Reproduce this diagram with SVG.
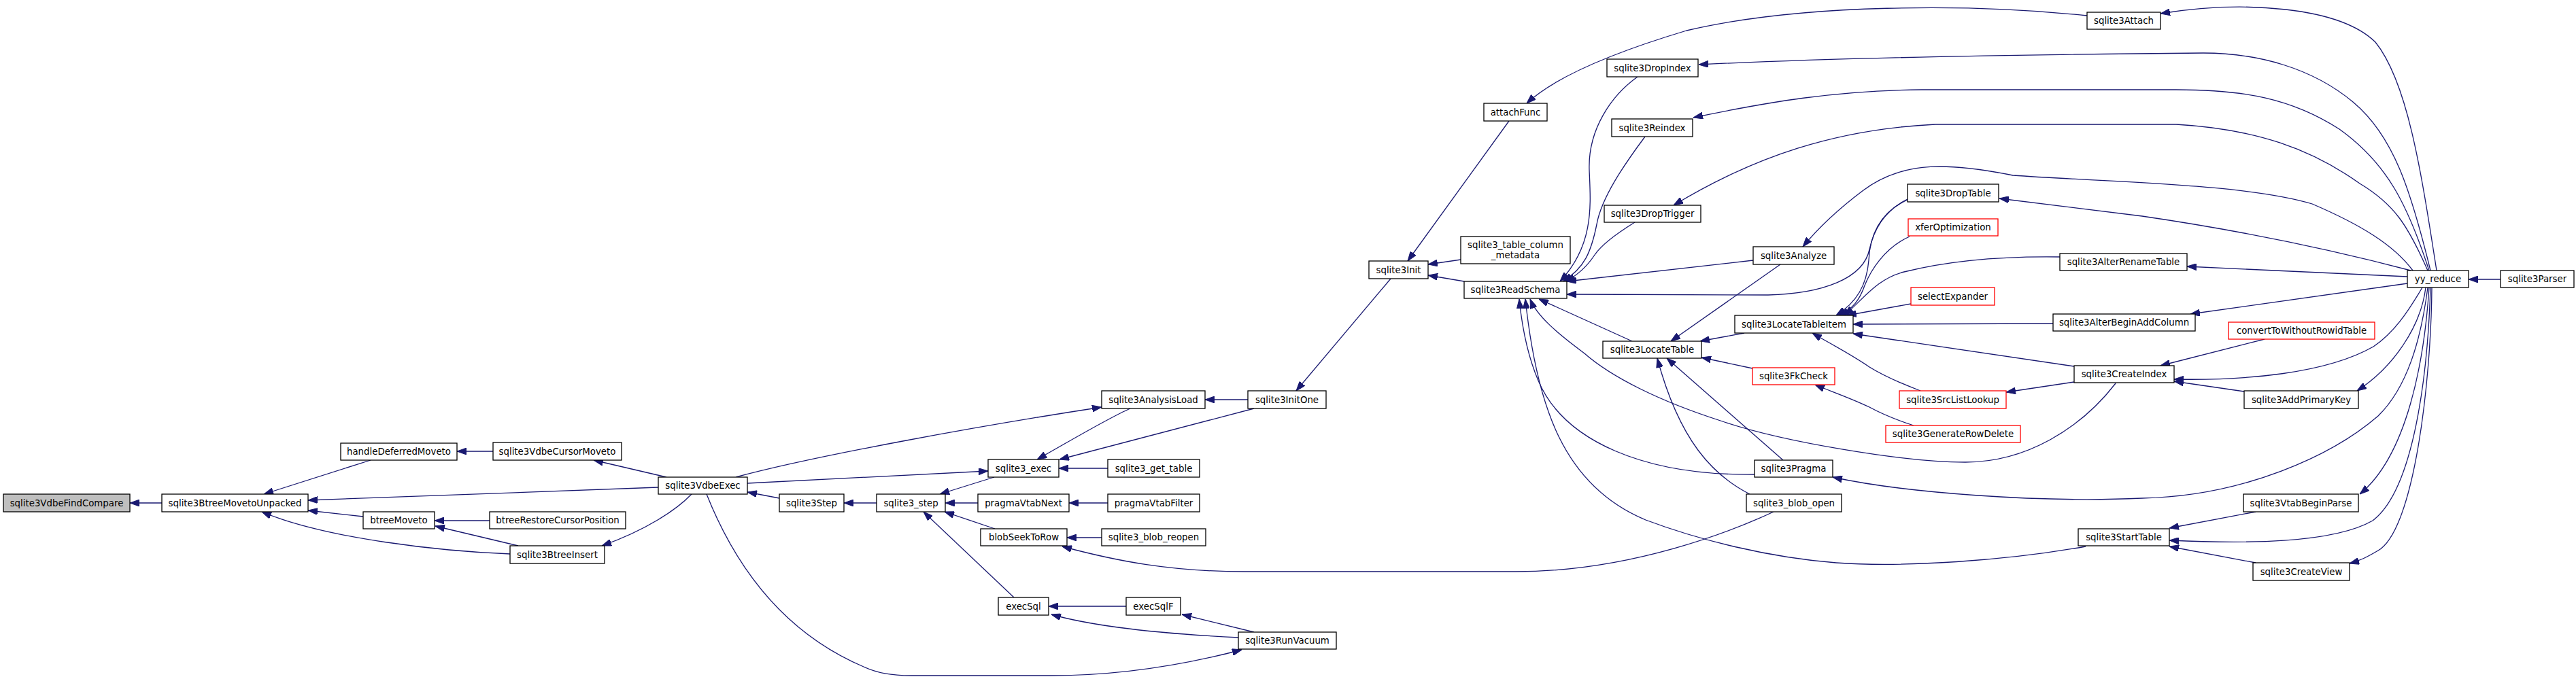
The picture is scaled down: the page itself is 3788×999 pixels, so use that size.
<svg xmlns="http://www.w3.org/2000/svg" width="3788" height="999" viewBox="0 0 3788 999">
<defs>
<style>
.n rect{fill:#ffffff;stroke:#000000;stroke-width:1.3}
.r rect{stroke:#ff0000}
.root rect{fill:#bfbfbf}
text{font-family:"DejaVu Sans","Liberation Sans",sans-serif;font-size:13.33px;text-anchor:middle;fill:#000000}
.e path{fill:none;stroke:#191970;stroke-width:1.3;marker-end:url(#a)}
</style>
<marker id="a" markerUnits="userSpaceOnUse" viewBox="0 0 14 10" refX="14" refY="5" markerWidth="14" markerHeight="10" orient="auto">
<path d="M0,0 L14,5 L0,10 z" fill="#191970" stroke="#191970" stroke-width="1"/>
</marker>
</defs>
<rect x="0" y="0" width="3788" height="999" fill="#ffffff"/>
<g id="edges" class="e">
<path d="M238,740 L191,740"/>
<path d="M545,677 L388,727"/>
<path d="M968,717 L453,736"/>
<path d="M534,760 L453,751"/>
<path d="M750,815 C650,811 480,793 385,753"/>
<path d="M725,664 L672,664"/>
<path d="M720,766 L639,766"/>
<path d="M762,803 L640,774"/>
<path d="M980,702 L873,677"/>
<path d="M1017,727 C995,750 950,780 885,803"/>
<path d="M1146,733 L1099,724"/>
<path d="M1289,740 L1241,740"/>
<path d="M1039,727 C1080,830 1150,930 1270,981 C1290,990 1310,994 1340,994 L1546,994 C1650,994 1750,976 1826,956"/>
<path d="M1082,702 C1200,670 1450,625 1620,599"/>
<path d="M1099,711 L1453,693"/>
<path d="M1462,702 L1382,727"/>
<path d="M1438,740 L1390,740"/>
<path d="M1463,778 L1389,753"/>
<path d="M1491,879 L1358,753"/>
<path d="M1662,601 C1630,615 1580,645 1525,676"/>
<path d="M1844,601 L1558,676"/>
<path d="M1629,689 L1557,689"/>
<path d="M1629,740 L1572,740"/>
<path d="M1620,791 L1569,791"/>
<path d="M2608,753 C2550,780 2400,841 2229,841 L1831,841 C1720,841 1640,825 1562,804"/>
<path d="M1656,892 L1542,892"/>
<path d="M1844,930 L1738,904"/>
<path d="M1821,938 C1740,934 1620,925 1546,904"/>
<path d="M1835,588 L1772,588"/>
<path d="M2045,410 L1906,575"/>
<path d="M2219,178 L2070,384"/>
<path d="M2148,382 L2100,389"/>
<path d="M2153,414 L2100,405"/>
<path d="M3069,23 C2900,5 2650,5 2480,45 C2380,75 2290,110 2245,152"/>
<path d="M2408,113 C2370,140 2335,190 2337,250 C2339,300 2345,360 2294,414"/>
<path d="M2419,201 C2390,240 2355,290 2348,330 C2340,370 2330,395 2298,414"/>
<path d="M2404,327 C2375,345 2355,360 2345,375 C2335,390 2320,405 2302,414"/>
<path d="M2578,383 L2304,414"/>
<path d="M2805,293 C2770,310 2755,340 2749,367 C2740,410 2680,432 2600,434 L2304,433"/>
<path d="M2400,502 L2263,440"/>
<path d="M2580,698 C2420,700 2300,650 2262,560 C2245,520 2238,480 2234,440"/>
<path d="M3067,804 C2950,825 2800,835 2700,828 C2600,820 2500,795 2420,765 C2300,715 2260,600 2243,440"/>
<path d="M3111,564 C3060,630 2980,680 2890,680 C2800,680 2620,650 2530,619 C2440,590 2370,555 2330,520 C2290,490 2260,465 2250,440"/>
<path d="M2618,389 L2457,502"/>
<path d="M2565,490 L2500,502"/>
<path d="M2577,542 L2502,526"/>
<path d="M2622,677 L2451,527"/>
<path d="M2573,727 C2520,700 2470,650 2437,527"/>
<path d="M3583,398 C3560,250 3540,120 3493,62 C3440,10 3300,0 3177,20"/>
<path d="M3574,398 C3545,280 3520,200 3460,150 C3400,100 3320,78 3240,78 C3000,80 2700,85 2498,95"/>
<path d="M3572,398 C3540,300 3510,240 3440,190 C3370,145 3300,132 3200,132 L2826,132 C2700,133 2600,150 2490,173"/>
<path d="M3570,398 C3540,330 3520,300 3470,270 C3400,220 3320,190 3200,183 L2846,183 C2700,190 2580,230 2461,302"/>
<path d="M3548,398 C3520,360 3470,330 3400,300 C3300,270 3100,268 2960,258 C2870,240 2800,235 2740,280 C2700,310 2670,340 2651,363"/>
<path d="M3545,398 C3420,365 3300,340 3150,318 L2940,292"/>
<path d="M3540,407 L3216,392"/>
<path d="M3540,417 L3221,462"/>
<path d="M3562,423 C3540,460 3520,490 3490,510 C3420,550 3300,560 3197,558"/>
<path d="M3567,423 C3560,480 3520,540 3466,575"/>
<path d="M3570,423 C3560,500 3540,570 3497,612 C3430,670 3300,730 3150,733 C3000,740 2800,725 2695,702"/>
<path d="M3572,423 C3565,530 3540,670 3470,727"/>
<path d="M3574,423 C3570,550 3550,720 3489,766 C3430,800 3300,800 3190,795"/>
<path d="M3576,423 C3575,560 3550,780 3497,810 C3480,820 3470,825 3455,829"/>
<path d="M3677,411 L3630,411"/>
<path d="M2805,294 C2770,310 2750,340 2748,383 C2745,420 2730,445 2700,464"/>
<path d="M2808,348 C2770,365 2750,400 2742,420 C2735,440 2725,455 2704,464"/>
<path d="M3029,378 C2960,377 2880,380 2800,400 C2760,410 2740,440 2712,464"/>
<path d="M2810,447 L2716,464"/>
<path d="M3019,476 L2725,477"/>
<path d="M2824,575 C2790,562 2765,550 2749,540 C2720,520 2690,505 2665,490"/>
<path d="M3050,539 L2725,491"/>
<path d="M2814,626 C2780,615 2760,605 2749,599 C2720,585 2690,575 2669,566"/>
<path d="M3050,562 L2950,577"/>
<path d="M3330,499 L3177,538"/>
<path d="M3300,576 L3197,561"/>
<path d="M3317,753 L3190,777"/>
<path d="M3317,828 L3190,804"/>
</g>
<g id="n0" class="n root"><rect x="5" y="727" width="186" height="26"/><text x="98" y="745">sqlite3VdbeFindCompare</text></g>
<g id="n1" class="n"><rect x="238" y="727" width="215" height="26"/><text x="345.5" y="745">sqlite3BtreeMovetoUnpacked</text></g>
<g id="n2" class="n"><rect x="501" y="652" width="171" height="25"/><text x="586.5" y="669">handleDeferredMoveto</text></g>
<g id="n3" class="n"><rect x="534" y="753" width="105" height="25"/><text x="586.5" y="770">btreeMoveto</text></g>
<g id="n4" class="n"><rect x="725" y="651" width="189" height="26"/><text x="819.5" y="669">sqlite3VdbeCursorMoveto</text></g>
<g id="n5" class="n"><rect x="720" y="753" width="200" height="25"/><text x="820" y="770">btreeRestoreCursorPosition</text></g>
<g id="n6" class="n"><rect x="750" y="803" width="139" height="26"/><text x="819.5" y="821">sqlite3BtreeInsert</text></g>
<g id="n7" class="n"><rect x="968" y="702" width="131" height="25"/><text x="1033.5" y="719">sqlite3VdbeExec</text></g>
<g id="n8" class="n"><rect x="1146" y="727" width="95" height="26"/><text x="1193.5" y="745">sqlite3Step</text></g>
<g id="n9" class="n"><rect x="1289" y="727" width="101" height="26"/><text x="1339.5" y="745">sqlite3_step</text></g>
<g id="n10" class="n"><rect x="1453" y="676" width="104" height="26"/><text x="1505" y="694">sqlite3_exec</text></g>
<g id="n11" class="n"><rect x="1438" y="727" width="134" height="26"/><text x="1505" y="745">pragmaVtabNext</text></g>
<g id="n12" class="n"><rect x="1442" y="778" width="127" height="25"/><text x="1505.5" y="795">blobSeekToRow</text></g>
<g id="n13" class="n"><rect x="1468" y="879" width="74" height="26"/><text x="1505" y="897">execSql</text></g>
<g id="n14" class="n"><rect x="1620" y="575" width="152" height="26"/><text x="1696" y="593">sqlite3AnalysisLoad</text></g>
<g id="n15" class="n"><rect x="1629" y="676" width="135" height="26"/><text x="1696.5" y="694">sqlite3_get_table</text></g>
<g id="n16" class="n"><rect x="1629" y="727" width="135" height="26"/><text x="1696.5" y="745">pragmaVtabFilter</text></g>
<g id="n17" class="n"><rect x="1620" y="778" width="153" height="25"/><text x="1696.5" y="795">sqlite3_blob_reopen</text></g>
<g id="n18" class="n"><rect x="1656" y="879" width="80" height="26"/><text x="1696" y="897">execSqlF</text></g>
<g id="n19" class="n"><rect x="1835" y="575" width="115" height="26"/><text x="1892.5" y="593">sqlite3InitOne</text></g>
<g id="n20" class="n"><rect x="1821" y="930" width="144" height="25"/><text x="1893" y="947">sqlite3RunVacuum</text></g>
<g id="n21" class="n"><rect x="2013" y="384" width="87" height="26"/><text x="2056.5" y="402">sqlite3Init</text></g>
<g id="n22" class="n"><rect x="2182" y="152" width="93" height="26"/><text x="2228.5" y="170">attachFunc</text></g>
<g id="n23" class="n"><rect x="2148" y="348" width="161" height="40"/><text x="2228.5" y="365">sqlite3_table_column</text><text x="2228.5" y="380">_metadata</text></g>
<g id="n24" class="n"><rect x="2153" y="414" width="151" height="25"/><text x="2228.5" y="431">sqlite3ReadSchema</text></g>
<g id="n25" class="n"><rect x="2363" y="87" width="134" height="26"/><text x="2430" y="105">sqlite3DropIndex</text></g>
<g id="n26" class="n"><rect x="2370" y="175" width="119" height="26"/><text x="2429.5" y="193">sqlite3Reindex</text></g>
<g id="n27" class="n"><rect x="2359" y="302" width="142" height="25"/><text x="2430" y="319">sqlite3DropTrigger</text></g>
<g id="n28" class="n"><rect x="2357" y="502" width="145" height="25"/><text x="2429.5" y="519">sqlite3LocateTable</text></g>
<g id="n29" class="n"><rect x="2578" y="363" width="119" height="26"/><text x="2637.5" y="381">sqlite3Analyze</text></g>
<g id="n30" class="n"><rect x="2551" y="464" width="174" height="26"/><text x="2638" y="482">sqlite3LocateTableItem</text></g>
<g id="n31" class="n r"><rect x="2577" y="541" width="121" height="25"/><text x="2637.5" y="558">sqlite3FkCheck</text></g>
<g id="n32" class="n"><rect x="2580" y="677" width="115" height="25"/><text x="2637.5" y="694">sqlite3Pragma</text></g>
<g id="n33" class="n"><rect x="2568" y="727" width="140" height="26"/><text x="2638" y="745">sqlite3_blob_open</text></g>
<g id="n34" class="n"><rect x="2805" y="271" width="134" height="26"/><text x="2872" y="289">sqlite3DropTable</text></g>
<g id="n35" class="n r"><rect x="2806" y="322" width="132" height="25"/><text x="2872" y="339">xferOptimization</text></g>
<g id="n36" class="n r"><rect x="2810" y="423" width="123" height="26"/><text x="2871.5" y="441">selectExpander</text></g>
<g id="n37" class="n r"><rect x="2793" y="575" width="157" height="26"/><text x="2871.5" y="593">sqlite3SrcListLookup</text></g>
<g id="n38" class="n r"><rect x="2773" y="626" width="198" height="25"/><text x="2872" y="643">sqlite3GenerateRowDelete</text></g>
<g id="n39" class="n"><rect x="3069" y="18" width="108" height="25"/><text x="3123" y="35">sqlite3Attach</text></g>
<g id="n40" class="n"><rect x="3029" y="373" width="187" height="25"/><text x="3122.5" y="390">sqlite3AlterRenameTable</text></g>
<g id="n41" class="n"><rect x="3019" y="462" width="209" height="25"/><text x="3123.5" y="479">sqlite3AlterBeginAddColumn</text></g>
<g id="n42" class="n"><rect x="3050" y="538" width="147" height="25"/><text x="3123.5" y="555">sqlite3CreateIndex</text></g>
<g id="n43" class="n"><rect x="3056" y="778" width="134" height="25"/><text x="3123" y="795">sqlite3StartTable</text></g>
<g id="n44" class="n r"><rect x="3277" y="474" width="215" height="25"/><text x="3384.5" y="491">convertToWithoutRowidTable</text></g>
<g id="n45" class="n"><rect x="3300" y="575" width="168" height="26"/><text x="3384" y="593">sqlite3AddPrimaryKey</text></g>
<g id="n46" class="n"><rect x="3299" y="727" width="169" height="26"/><text x="3383.5" y="745">sqlite3VtabBeginParse</text></g>
<g id="n47" class="n"><rect x="3313" y="828" width="142" height="26"/><text x="3384" y="846">sqlite3CreateView</text></g>
<g id="n48" class="n"><rect x="3540" y="398" width="90" height="25"/><text x="3585" y="415">yy_reduce</text></g>
<g id="n49" class="n"><rect x="3677" y="398" width="108" height="25"/><text x="3731" y="415">sqlite3Parser</text></g>
</svg>
